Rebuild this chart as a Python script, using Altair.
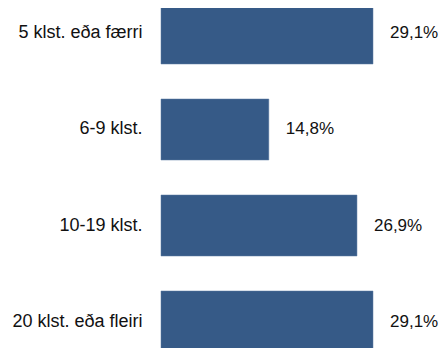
import altair as alt
import pandas as pd

categories = ["5 klst. eða færri", "6-9 klst.", "10-19 klst.", "20 klst. eða fleiri"]
values = [29.1, 14.8, 26.9, 29.1]
labels = ["29,1%", "14,8%", "26,9%", "29,1%"]

df = pd.DataFrame({"cat": categories, "val": values, "lab": labels})

FONT = "Liberation Sans"
COLOR = "#365a87"

y = alt.Y(
    "cat:N",
    sort=categories,
    scale=alt.Scale(range=[-5, 344], paddingInner=0.3646, paddingOuter=0),
    axis=alt.Axis(
        title=None, ticks=False, tickSize=0, domain=False, grid=False,
        labelPadding=19, labelFont=FONT, labelFontSize=18, labelColor="#111111",
        labelLimit=300,
    ),
)
x = alt.X(
    "val:Q",
    scale=alt.Scale(domain=[0, 40], range=[0, 291.4]),
    axis=None,
)

bars = alt.Chart(df).mark_bar(color=COLOR, stroke="#5a7aa3", strokeWidth=0.5).encode(x=x, y=y)
text = alt.Chart(df).mark_text(
    align="left", baseline="middle", dx=17, font=FONT, fontSize=17, color="#111111"
).encode(x=x, y=y, text="lab:N")

chart = (bars + text).properties(
    width=278,
    height=340,
    autosize=alt.AutoSizeParams(type="none"),
    padding={"left": 153, "top": 0, "right": 0, "bottom": 0},
).configure_view(stroke=None)

chart.save("out.html", embed_options={"renderer": "svg", "actions": False})
